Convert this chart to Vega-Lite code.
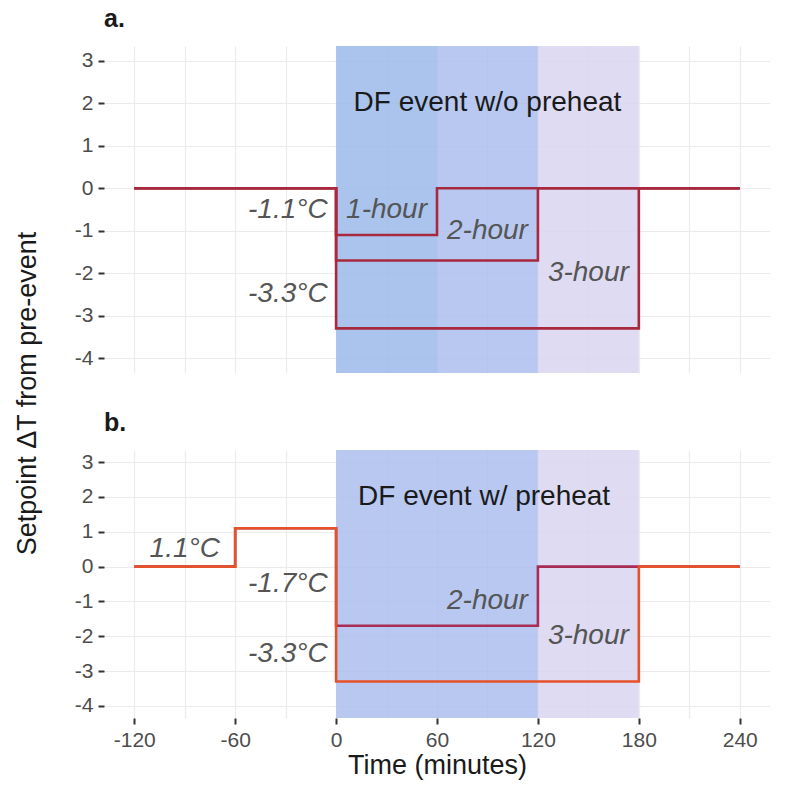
{
  "$schema": "https://vega.github.io/schema/vega-lite/v6.json",
  "padding": {"left": 13, "top": 7, "right": 10, "bottom": 5},
  "config": {
    "view": {"stroke": null},
    "font": "Liberation Sans",
    "axis": {"domain": false, "gridColor": "#ebebeb", "gridWidth": 1.2, "labelColor": "#4d4d4d", "labelFontSize": 21, "labelFont": "Liberation Sans", "tickColor": "#333333", "tickWidth": 2, "tickSize": 6, "labelPadding": 5, "titleFont": "Liberation Sans", "titleFontSize": 27, "titleFontWeight": "normal", "titleColor": "#1a1a1a"},
    "title": {"anchor": "start", "frame": "group", "fontSize": 25, "fontWeight": "bold", "color": "#1a1a1a", "offset": 14, "font": "Liberation Sans"}
  },
  "bounds": "flush",
  "spacing": 77,
  "resolve": {"scale": {"stroke": "independent", "fill": "independent"}},
  "datasets": {
    "bandsA": [
      {"start": 0, "end": 60, "band": "b1"},
      {"start": 60, "end": 120, "band": "b2"},
      {"start": 120, "end": 180, "band": "b3"}
    ],
    "bandsB": [
      {"start": 0, "end": 120, "band": "b2"},
      {"start": 120, "end": 180, "band": "b3"}
    ],
    "linesA": [
      {"series": "3-hour", "t": -120, "dT": 0},
      {"series": "3-hour", "t": 0, "dT": -3.3},
      {"series": "3-hour", "t": 180, "dT": 0},
      {"series": "3-hour", "t": 240, "dT": 0},
      {"series": "2-hour", "t": -120, "dT": 0},
      {"series": "2-hour", "t": 0, "dT": -1.7},
      {"series": "2-hour", "t": 120, "dT": 0},
      {"series": "2-hour", "t": 240, "dT": 0},
      {"series": "1-hour", "t": -120, "dT": 0},
      {"series": "1-hour", "t": 0, "dT": -1.1},
      {"series": "1-hour", "t": 60, "dT": 0},
      {"series": "1-hour", "t": 240, "dT": 0}
    ],
    "linesB": [
      {"series": "a2-hour", "t": -120, "dT": 0},
      {"series": "a2-hour", "t": -60, "dT": 1.1},
      {"series": "a2-hour", "t": 0, "dT": -1.7},
      {"series": "a2-hour", "t": 120, "dT": 0},
      {"series": "a2-hour", "t": 240, "dT": 0},
      {"series": "b3-hour", "t": -120, "dT": 0},
      {"series": "b3-hour", "t": -60, "dT": 1.1},
      {"series": "b3-hour", "t": 0, "dT": -3.3},
      {"series": "b3-hour", "t": 180, "dT": 0},
      {"series": "b3-hour", "t": 240, "dT": 0}
    ],
    "textA": [
      {"kind": "pct", "t": -5, "dT": -0.5, "label": "-1.1°C"},
      {"kind": "pct", "t": -5, "dT": -2.5, "label": "-3.3°C"},
      {"kind": "hour", "t": 30, "dT": -0.5, "label": "1-hour"},
      {"kind": "hour", "t": 90, "dT": -1.0, "label": "2-hour"},
      {"kind": "hour", "t": 150, "dT": -2.0, "label": "3-hour"},
      {"kind": "event", "t": 90, "dT": 2.0, "label": "DF event w/o preheat"}
    ],
    "textB": [
      {"kind": "hour", "t": -90, "dT": 0.5, "label": "1.1°C"},
      {"kind": "pct", "t": -5, "dT": -0.5, "label": "-1.7°C"},
      {"kind": "pct", "t": -5, "dT": -2.5, "label": "-3.3°C"},
      {"kind": "hour", "t": 90, "dT": -1.0, "label": "2-hour"},
      {"kind": "hour", "t": 150, "dT": -2.0, "label": "3-hour"},
      {"kind": "event", "t": 88, "dT": 2.0, "label": "DF event w/ preheat"}
    ]
  },
  "vconcat": [
    {
      "width": 666,
      "height": 327,
      "title": "a.",
      "layer": [
        {
          "data": {"name": "bandsA"},
          "mark": {"type": "rect", "opacity": 0.85},
          "encoding": {
            "x": {"field": "start", "type": "quantitative", "title": null, "scale": {"domain": [-138, 258], "nice": false, "zero": false},
                  "axis": {"values": [-120, -90, -60, -30, 0, 30, 60, 90, 120, 150, 180, 210, 240], "labels": false, "ticks": false, "title": null, "grid": true}},
            "x2": {"field": "end"},
            "fill": {"field": "band", "type": "nominal", "scale": {"domain": ["b1", "b2", "b3"], "range": ["#9bbaeb", "#acbeef", "#d8d5f1"]}, "legend": null}
          }
        },
        {
          "data": {"name": "linesA"},
          "mark": {"type": "line", "interpolate": "step-after", "strokeWidth": 2.6},
          "encoding": {
            "x": {"field": "t", "type": "quantitative", "title": null},
            "y": {"field": "dT", "type": "quantitative", "scale": {"domain": [-4.35, 3.35], "nice": false, "zero": false},
                  "axis": {"values": [-4, -3, -2, -1, 0, 1, 2, 3], "labelExpr": "'' + datum.value", "title": "Setpoint ΔT from pre-event", "titleX": -77, "titleY": 347, "titleAlign": "center", "titleBaseline": "middle", "titleAngle": -90}},
            "stroke": {"field": "series", "type": "nominal", "scale": {"domain": ["1-hour", "2-hour", "3-hour"], "range": ["#a8283e", "#a8283e", "#a8283e"]}, "legend": null},
            "detail": {"field": "series"}
          }
        },
        {
          "data": {"name": "textA"},
          "transform": [{"filter": "datum.kind === 'pct'"}],
          "mark": {"type": "text", "align": "right", "baseline": "middle", "fontStyle": "italic", "fontSize": 28, "color": "#555555", "font": "Liberation Sans"},
          "encoding": {
            "x": {"field": "t", "type": "quantitative", "title": null},
            "y": {"field": "dT", "type": "quantitative", "title": "Setpoint ΔT from pre-event"},
            "text": {"field": "label"}
          }
        },
        {
          "data": {"name": "textA"},
          "transform": [{"filter": "datum.kind === 'hour'"}],
          "mark": {"type": "text", "align": "center", "baseline": "middle", "fontStyle": "italic", "fontSize": 28, "color": "#555555", "font": "Liberation Sans"},
          "encoding": {
            "x": {"field": "t", "type": "quantitative", "title": null},
            "y": {"field": "dT", "type": "quantitative", "title": "Setpoint ΔT from pre-event"},
            "text": {"field": "label"}
          }
        },
        {
          "data": {"name": "textA"},
          "transform": [{"filter": "datum.kind === 'event'"}],
          "mark": {"type": "text", "align": "center", "baseline": "middle", "fontSize": 28, "color": "#1a1a1a", "font": "Liberation Sans"},
          "encoding": {
            "x": {"field": "t", "type": "quantitative", "title": null},
            "y": {"field": "dT", "type": "quantitative", "title": "Setpoint ΔT from pre-event"},
            "text": {"field": "label"}
          }
        }
      ]
    },
    {
      "width": 666,
      "height": 268,
      "title": "b.",
      "layer": [
        {
          "data": {"name": "bandsB"},
          "mark": {"type": "rect", "opacity": 0.85},
          "encoding": {
            "x": {"field": "start", "type": "quantitative", "title": "Time (minutes)", "scale": {"domain": [-138, 258], "nice": false, "zero": false},
                  "axis": {"values": [-120, -90, -60, -30, 0, 30, 60, 90, 120, 150, 180, 210, 240], "labelExpr": "datum.value % 60 === 0 ? '' + datum.value : ''", "tickOpacity": {"condition": {"test": "datum.value % 60 === 0", "value": 1}, "value": 0}, "title": "Time (minutes)", "titlePadding": 2, "grid": true}},
            "x2": {"field": "end"},
            "fill": {"field": "band", "type": "nominal", "scale": {"domain": ["b2", "b3"], "range": ["#acbeef", "#d8d5f1"]}, "legend": null}
          }
        },
        {
          "data": {"name": "linesB"},
          "mark": {"type": "line", "interpolate": "step-after", "strokeWidth": 2.6},
          "encoding": {
            "x": {"field": "t", "type": "quantitative", "title": "Time (minutes)"},
            "y": {"field": "dT", "type": "quantitative", "title": "dT", "scale": {"domain": [-4.35, 3.35], "nice": false, "zero": false},
                  "axis": {"values": [-4, -3, -2, -1, 0, 1, 2, 3], "labelExpr": "'' + datum.value", "title": null}},
            "stroke": {"field": "series", "type": "nominal", "scale": {"domain": ["a2-hour", "b3-hour"], "range": ["#a82d55", "#e5522a"]}, "legend": null},
            "detail": {"field": "series"}
          }
        },
        {
          "data": {"name": "textB"},
          "transform": [{"filter": "datum.kind === 'pct'"}],
          "mark": {"type": "text", "align": "right", "baseline": "middle", "fontStyle": "italic", "fontSize": 28, "color": "#555555", "font": "Liberation Sans"},
          "encoding": {
            "x": {"field": "t", "type": "quantitative", "title": "Time (minutes)"},
            "y": {"field": "dT", "type": "quantitative", "title": "dT", "axis": {"values": [-4, -3, -2, -1, 0, 1, 2, 3], "labelExpr": "'' + datum.value", "title": null}},
            "text": {"field": "label"}
          }
        },
        {
          "data": {"name": "textB"},
          "transform": [{"filter": "datum.kind === 'hour'"}],
          "mark": {"type": "text", "align": "center", "baseline": "middle", "fontStyle": "italic", "fontSize": 28, "color": "#555555", "font": "Liberation Sans"},
          "encoding": {
            "x": {"field": "t", "type": "quantitative", "title": "Time (minutes)"},
            "y": {"field": "dT", "type": "quantitative", "title": "dT", "axis": {"values": [-4, -3, -2, -1, 0, 1, 2, 3], "labelExpr": "'' + datum.value", "title": null}},
            "text": {"field": "label"}
          }
        },
        {
          "data": {"name": "textB"},
          "transform": [{"filter": "datum.kind === 'event'"}],
          "mark": {"type": "text", "align": "center", "baseline": "middle", "fontSize": 28, "color": "#1a1a1a", "font": "Liberation Sans"},
          "encoding": {
            "x": {"field": "t", "type": "quantitative", "title": "Time (minutes)"},
            "y": {"field": "dT", "type": "quantitative", "title": "dT", "axis": {"values": [-4, -3, -2, -1, 0, 1, 2, 3], "labelExpr": "'' + datum.value", "title": null}},
            "text": {"field": "label"}
          }
        }
      ]
    }
  ]
}
